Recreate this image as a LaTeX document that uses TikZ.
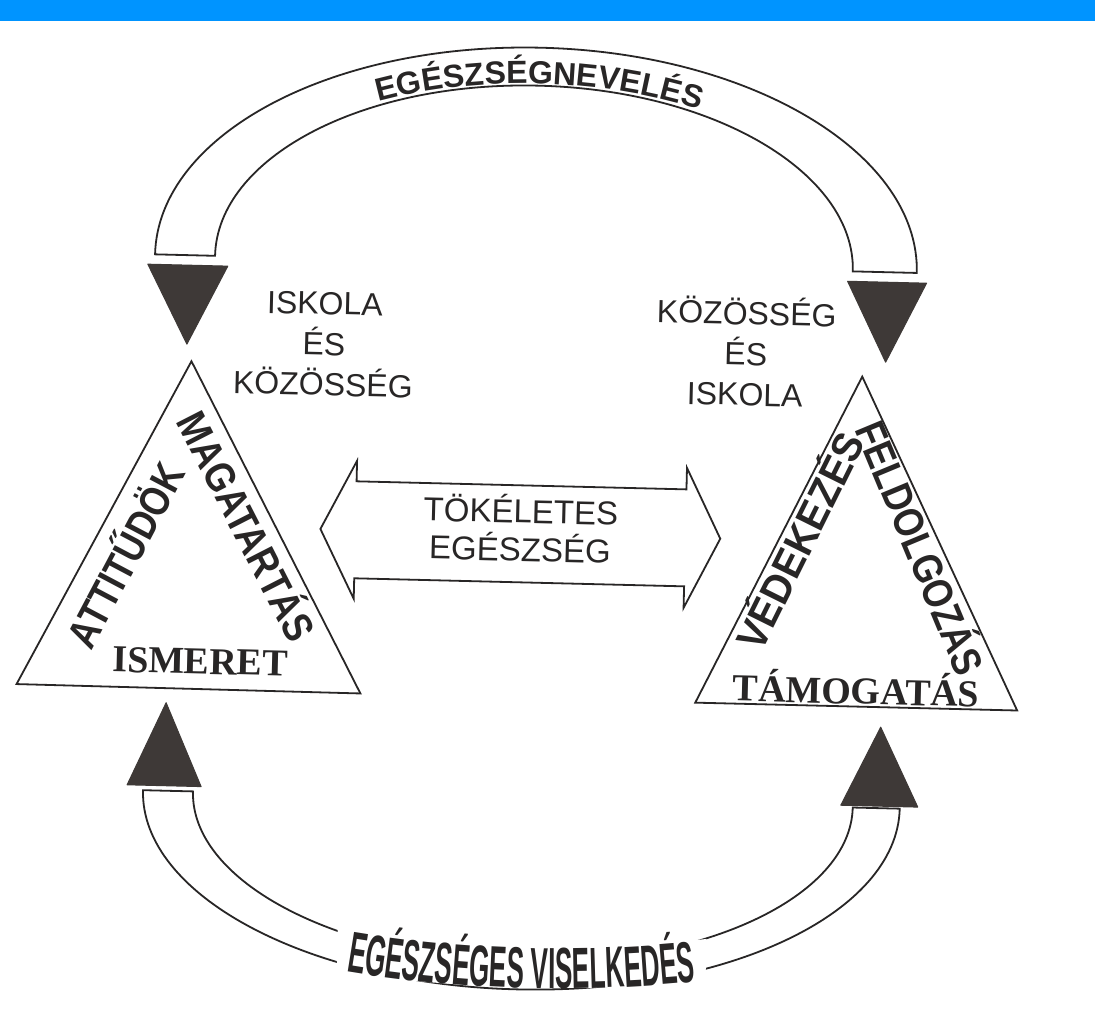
\documentclass[tikz,border=0pt]{standalone}
\usepackage{fontspec}
\usepackage{graphicx}
\setmainfont{Liberation Serif}
\newfontfamily\sansf{Liberation Sans}
\newfontfamily\condf[FakeStretch=0.45]{Liberation Sans}
\usetikzlibrary{decorations.text}
\definecolor{barblue}{RGB}{0,148,255}
\definecolor{ink}{RGB}{40,38,38}
\definecolor{headfill}{RGB}{62,57,55}
\begin{document}
\begin{tikzpicture}[x=1pt,y=1pt,
  outl/.style={draw=ink, line width=1.8pt, line join=miter, fill=white},
  head/.style={fill=headfill, draw=headfill, line width=1pt, line join=round},
  lbl/.style={font=\sansf\fontsize{32}{40.5}\selectfont, text=ink, align=center, inner sep=0pt},
  mid/.style={font=\sansf\fontsize{33}{38}\selectfont, text=ink, align=center, inner sep=0pt},
  side/.style={font=\sansf\bfseries\fontsize{42}{42}\selectfont, text=ink, inner sep=0pt, text height=30pt, text depth=0pt},
  basetxt/.style={font=\bfseries\fontsize{38}{38}\selectfont, text=ink, inner sep=0pt, text height=25.7pt, text depth=0pt},
]
\useasboundingbox (0,0) rectangle (1095,-1014);
\fill[white] (0,0) rectangle (1095,-1014);
\fill[barblue] (0,0) rectangle (1095,-21);
\begin{scope}[rotate around={-1.4:(548,-507)}, transform shape]
  % top curved band arrow
  \draw[outl] (149,-264) arc[start angle=180,end angle=0,x radius=381,y radius=216]
     -- (847,-264) arc[start angle=0,end angle=180,x radius=319,y radius=178] -- cycle;
  \filldraw[head] (142,-274) -- (222,-274) -- (183,-353) -- cycle;
  \filldraw[head] (842,-274) -- (921,-274) -- (882,-354) -- cycle;
  \path[decorate, decoration={text along path, text align=center, text color=ink,
     text={|\sansf\bfseries\fontsize{32}{32}\selectfont|EGÉSZSÉGNEVELÉS}}]
     (195,-264) arc[start angle=180,end angle=0,x radius=334,y radius=180];
  % bottom curved band arrow
  \draw[outl] (150,-800) arc[start angle=180,end angle=360,x radius=378.5,y radius=190]
     -- (860,-800) arc[start angle=360,end angle=180,x radius=330,y radius=163] -- cycle;
  \filldraw[head] (134,-795) -- (208,-795) -- (171,-712) -- cycle;
  \filldraw[head] (848,-798) -- (925,-798) -- (886,-719) -- cycle;
  \fill[white] (348,-933) .. controls (470,-951) and (595,-951) .. (717,-935)
     -- (717,-979) .. controls (595,-991) and (470,-991) .. (348,-977) -- cycle;
  \path[decorate, decoration={text along path, text align=center, text color=ink,
     text={|\condf\bfseries\fontsize{58}{58}\selectfont|EGÉSZSÉGES VISELKEDÉS}}]
     (350,-975) .. controls (470,-993) and (595,-993) .. (715,-977);
  % triangles
  \draw[outl] (188,-370) -- (21,-697) -- (365,-698) -- cycle;
  \draw[outl] (859,-369) -- (700,-699) -- (1022,-699) -- cycle;
  % double arrow
  \draw[outl] (321,-534.5) -- (356,-465.5) -- (356,-486) -- (686,-486) -- (686,-464.5)
     -- (721,-534.5) -- (686,-604.5) -- (686,-583) -- (356,-583) -- (356,-603.5) -- cycle;
  % labels
  \node[lbl] (lefttop) at (320,-349.5) {ISKOLA\\ÉS\\KÖZÖSSÉG};
  \node[lbl] (righttop) at (742,-346.6) {KÖZÖSSÉG\\ÉS\\ISKOLA};
  \node[mid] (health) at (521,-528.6) {TÖKÉLETES\\EGÉSZSÉG};
  \node[side, rotate=63.5] (att) at (127,-565.5) {\scalebox{0.84}[1]{ATTITŰDÖK}};
  \node[side, rotate=-61.5] (mag) at (247,-534) {\scalebox{0.86}[1]{MAGATARTÁS}};
  \node[side, rotate=65] (ved) at (801,-535) {\scalebox{0.93}[1]{VÉDEKEZÉS}};
  \node[side, rotate=-66] (fel) at (921,-539) {\scalebox{0.85}[1]{FELDOLGOZÁS}};
  \node[basetxt] (ism) at (204,-669.5) {ISMERET};
  \node[basetxt] (tam) at (860.5,-683.5) {TÁMOGATÁS};
\end{scope}
\end{tikzpicture}
\end{document}
